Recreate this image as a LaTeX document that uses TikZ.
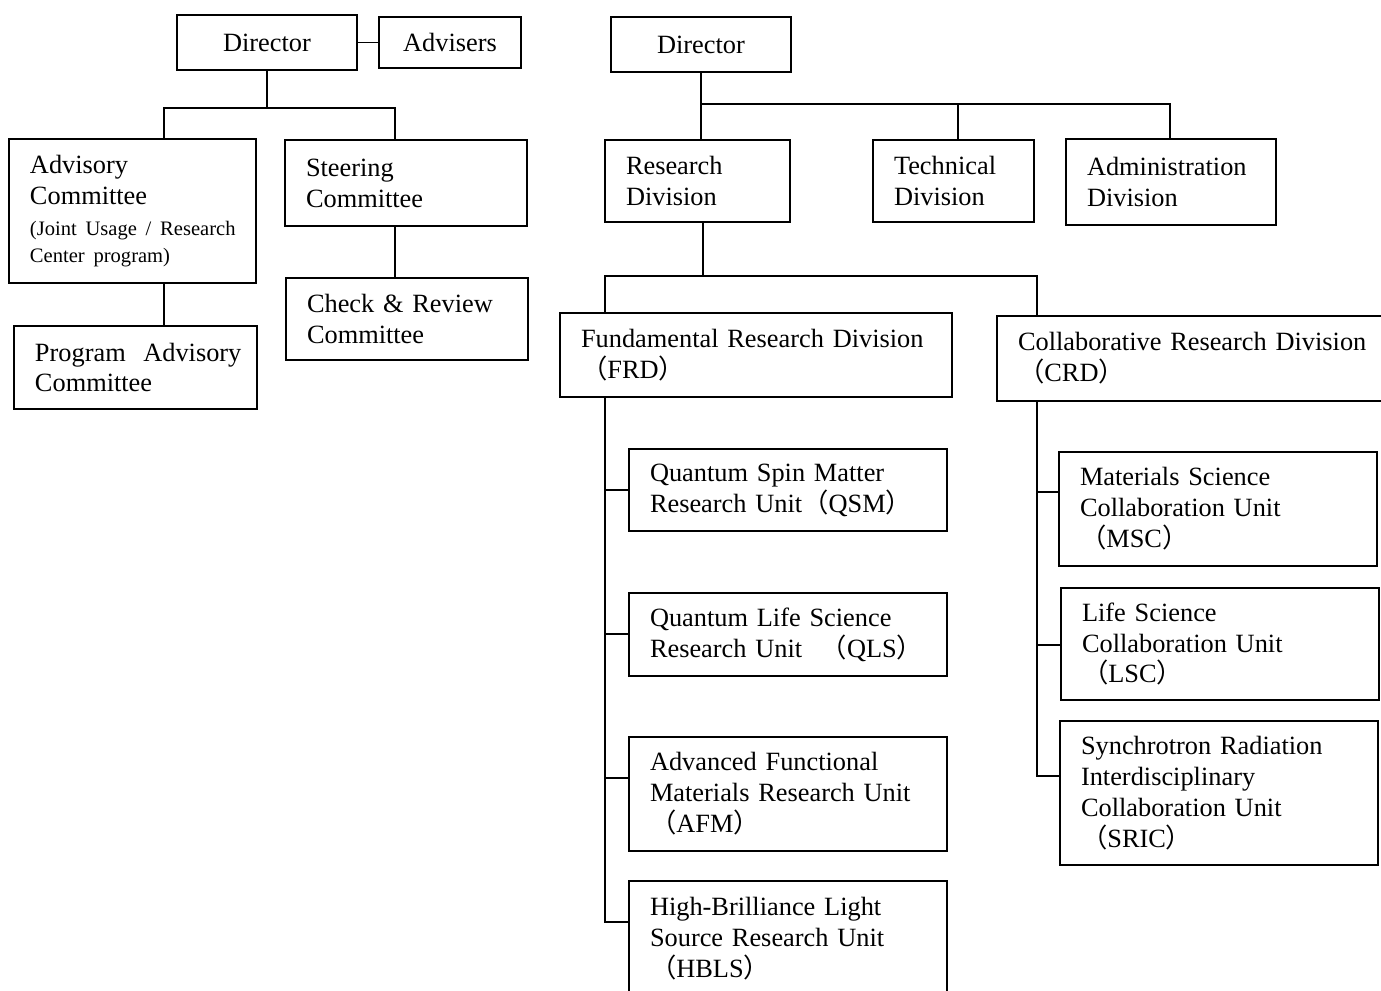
\documentclass[tikz,border=0pt]{standalone}
\usepackage{fontspec}
\setmainfont{Liberation Serif}
\newfontfamily\cjk{Noto Sans CJK JP}
\newcommand{\fwl}{{\cjk （}}
\newcommand{\fwr}{{\cjk ）}}

\begin{document}
\begin{tikzpicture}[x=0.02cm, y=-0.02cm,
    box/.style={draw, line width=1.1pt, anchor=north west, outer sep=0pt, align=left,
                inner xsep=0.42cm, inner ysep=0pt, font=\fontsize{15}{17.6}\selectfont},
    head/.style={box, align=center, inner xsep=0pt},
    link/.style={line width=1pt}]
    \useasboundingbox (0,0) rectangle (1381,990);
    \clip (0,0) rectangle (1381,990);

    % Left chart
    \node[head, minimum width=3.6cm, minimum height=1.1cm] (dirL) at (177,15) {Director};
    \node[head, minimum width=2.84cm, minimum height=1.02cm] (adv) at (379,17) {Advisers};
    \node[box, text width=4.1cm, minimum height=2.88cm] (advc) at (9,139)
        {Advisory\\Committee\\[3.2pt]{\fontsize{11.7}{14.5}\selectfont
         \mbox{(Joint Usage / Research}\\[-2.6pt]\mbox{Center program)}}};
    \node[box, text width=4.02cm, minimum height=1.66cm] (pac) at (14,326) {\mbox{Program\ \ Advisory}\\Committee};
    \node[box, text width=4.0cm, minimum height=1.72cm] (steer) at (285,140) {Steering\\Committee};
    \node[box, text width=4.0cm, minimum height=1.64cm] (check) at (286,278) {Check \& Review\\Committee};

    % Right chart
    \node[head, minimum width=3.6cm, minimum height=1.1cm] (dirR) at (611,17) {Director};
    \node[box, text width=2.86cm, minimum height=1.64cm] (resd) at (605,140) {Research\\Division};
    \node[box, text width=2.38cm, minimum height=1.64cm] (tech) at (873,140) {Technical\\Division};
    \node[box, text width=3.36cm, minimum height=1.72cm] (admin) at (1066,139) {Administration\\Division};
    \node[box, text width=7.0cm, minimum height=1.68cm] (frd) at (560,313) {Fundamental Research Division\\\fwl FRD\fwr};
    \node[box, text width=7.36cm, minimum height=1.7cm] (crd) at (997,316) {Collaborative Research Division\\\fwl CRD\fwr};

    % Research units
    \node[box, text width=5.52cm, minimum height=1.64cm] (qsm) at (629,449) {Quantum Spin Matter\\Research Unit\fwl QSM\fwr};
    \node[box, text width=5.52cm, minimum height=1.66cm] (qls) at (629,593) {Quantum Life Science\\Research Unit\hspace{0.7em}\fwl QLS\fwr};
    \node[box, text width=5.52cm, minimum height=2.28cm] (afm) at (629,737) {Advanced Functional\\Materials Research Unit\\\fwl AFM\fwr};
    \node[box, text width=5.52cm, minimum height=2.32cm] (hbls) at (629,881) {High-Brilliance Light\\Source Research Unit\\\fwl HBLS\fwr};

    % Collaboration units
    \node[box, text width=5.52cm, minimum height=2.28cm] (msc) at (1059,452) {Materials Science\\Collaboration Unit\\\fwl MSC\fwr};
    \node[box, text width=5.52cm, minimum height=2.24cm] (lsc) at (1061,588) {Life Science\\Collaboration Unit\\\fwl LSC\fwr};
    \node[box, text width=5.52cm, minimum height=2.88cm] (sric) at (1060,721) {Synchrotron Radiation\\Interdisciplinary\\Collaboration Unit\\\fwl SRIC\fwr};

    % Left links
    \draw[link] (dirL.east) -- (adv.west |- dirL.east);
    \coordinate (busL) at ([yshift=-0.76cm]dirL.south);
    \draw[link] (dirL.south) -- (busL);
    \draw[link] (busL) -| ([xshift=3.1cm]advc.north west);
    \draw[link] (busL) -| ([xshift=2.2cm]steer.north west);
    \coordinate (advcS) at ([xshift=3.1cm]advc.south west);
    \draw[link] (advcS) -- (advcS |- pac.north);
    \coordinate (steerS) at ([xshift=2.2cm]steer.south west);
    \draw[link] (steerS) -- (steerS |- check.north);

    % Right links
    \coordinate (busR) at ([yshift=-0.64cm]dirR.south);
    \draw[link] (dirR.south) -- (busR);
    \foreach \n/\dx in {resd/1.92, tech/1.7, admin/2.08}
        \draw[link] (busR) -| ([xshift=\dx cm]\n.north west);
    \coordinate (resdS) at ([xshift=1.96cm]resd.south west);
    \coordinate (busD) at ([yshift=-1.08cm]resdS);
    \draw[link] (resdS) -- (busD);
    \draw[link] (busD) -| ([xshift=0.9cm]frd.north west);
    \draw[link] (busD) -| ([xshift=0.8cm]crd.north west);

    % Unit branches
    \coordinate (frdS) at ([xshift=0.9cm]frd.south west);
    \foreach \u in {qsm,qls,afm,hbls}
        \draw[link] (frdS) |- ([yshift=-0.82cm]\u.north west);
    \coordinate (crdS) at ([xshift=0.8cm]crd.south west);
    \foreach \u/\dy in {msc/0.8, lsc/1.14, sric/1.1}
        \draw[link] (crdS) |- ([yshift=-\dy cm]\u.north west);
\end{tikzpicture}
\end{document}
